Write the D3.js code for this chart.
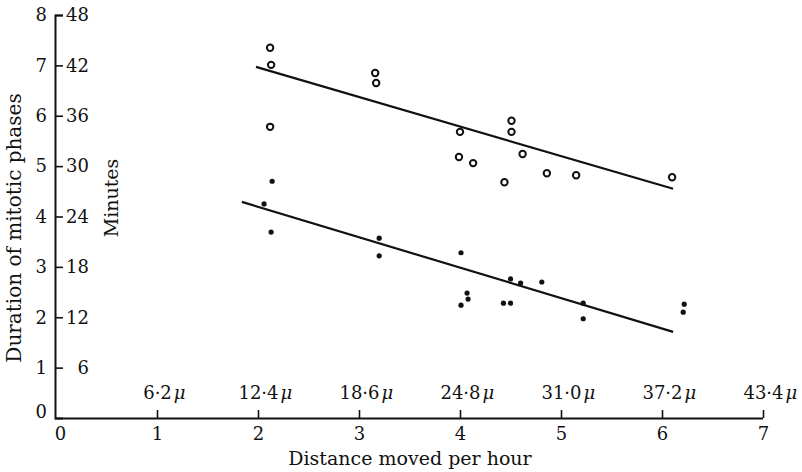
<!DOCTYPE html>
<html>
<head>
<meta charset="utf-8">
<script src="https://cdn.jsdelivr.net/npm/d3@7"></script>
<style>
  body { margin: 0; background: #fff; }
  svg { display: block; }
  text { font-family: 'DejaVu Serif', 'Liberation Serif', serif; fill: #111; }
</style>
</head>
<body>
<svg id="chart" width="802" height="472"></svg>
<script>
// speed axis (divisions per hour) and the matching distance labels
var speedTicks =    [0, 1, 2, 3, 4, 5, 6, 7]
var distLabels =    ['', '6·2', '12·4', '18·6', '24·8', '31·0', '37·2', '43·4']
// duration axis, in units and in minutes
var unitTicks =     [0, 1, 2, 3, 4, 5, 6, 7, 8]
var minuteLabels =  ['', '6', '12', '18', '24', '30', '36', '42', '48']

// open circles (upper group)
var openPoints = [
    [2.12, 7.35], [2.13, 7.01], [2.12, 5.78],
    [3.16, 6.85], [3.17, 6.65],
    [4.00, 5.68], [3.99, 5.18], [4.13, 5.06],
    [4.51, 5.90], [4.51, 5.68], [4.62, 5.24], [4.44, 4.68],
    [4.86, 4.86], [5.15, 4.82], [6.10, 4.78]
]
// filled dots (lower group)
var dotPoints = [
    [2.14, 4.70], [2.06, 4.25], [2.13, 3.69],
    [3.20, 3.57], [3.20, 3.22],
    [4.01, 3.28], [4.07, 2.48], [4.08, 2.36], [4.01, 2.24],
    [4.43, 2.28], [4.50, 2.28], [4.50, 2.76], [4.60, 2.68],
    [4.81, 2.70], [5.22, 2.28], [5.22, 1.97],
    [6.22, 2.26], [6.21, 2.10]
]
// fitted lines, as drawn
var openFit = [[1.98, 6.97], [6.11, 4.55]]
var dotFit =  [[1.84, 4.29], [6.11, 1.71]]

var svg =   d3.select('#chart')
var x =     d3.scaleLinear().domain([0, 7]).range([56, 763])
var y =     d3.scaleLinear().domain([0, 8]).range([418, 15])
var axisX = 55
var fontSize = 18

function styleAxis(g) {
    g.attr('font-family', null).attr('font-size', fontSize)
    g.select('.domain').attr('stroke', '#111').attr('stroke-width', 2)
    g.selectAll('.tick line').attr('stroke', '#111').attr('stroke-width', 1.6)
}

// y axis: minutes on the right of the line
var yRight = svg.append('g')
    .attr('transform', `translate(${axisX},0)`)
    .call(d3.axisRight(y)
        .tickValues(unitTicks.slice(1))
        .tickSize(8).tickSizeOuter(8)
        .tickFormat(d => minuteLabels[d]))
    .call(styleAxis)
yRight.selectAll('.tick text').attr('x', 34).attr('text-anchor', 'end')

// y axis: units on the left
var yLeft = svg.append('g')
    .attr('transform', `translate(${axisX},0)`)
    .call(d3.axisLeft(y).tickValues(unitTicks).tickFormat(d3.format('d')).tickSize(0).tickPadding(8))
    .call(styleAxis)
    .call(g => g.select('.domain').remove())
yLeft.selectAll('.tick text').filter(d => d === 0).attr('dy', '-0.05em')

// x axis: distance labels above the line
var xTop = svg.append('g')
    .attr('transform', `translate(0,${y(0)})`)
    .call(d3.axisTop(x)
        .tickValues(speedTicks.slice(1))
        .tickSize(8).tickSizeOuter(0)
        .tickFormat(d => distLabels[d])
        .tickPadding(11))
    .call(styleAxis)
xTop.select('.domain').attr('d', `M${axisX},0.5H${x(7)}`)
xTop.selectAll('.tick text').each(function() {
    var t = d3.select(this)
    var w = this.getComputedTextLength()
    t.attr('text-anchor', 'start').attr('x', -w / 2)
    t.append('tspan').attr('dx', 2).attr('font-style', 'italic').text('μ')
})

// x axis: speed numbers below the line
var xBottom = svg.append('g')
    .attr('transform', `translate(0,${y(0)})`)
    .call(d3.axisBottom(x).tickValues(speedTicks).tickFormat(d3.format('d')).tickSize(0).tickPadding(9))
    .call(styleAxis)
    .call(g => g.select('.domain').remove())
xBottom.selectAll('.tick text').filter(d => d === 0).attr('x', 4)

// titles
svg.append('text')
    .attr('x', 410).attr('y', 465)
    .attr('text-anchor', 'middle')
    .attr('font-size', 19)
    .text('Distance moved per hour')

svg.append('text')
    .attr('transform', 'translate(21,228) rotate(-90)')
    .attr('text-anchor', 'middle')
    .attr('font-size', 20)
    .text('Duration of mitotic phases')

svg.append('text')
    .attr('transform', 'translate(118,198) rotate(-90)')
    .attr('text-anchor', 'middle')
    .attr('font-size', 19)
    .text('Minutes')

// fitted lines
var line = d3.line().x(d => x(d[0])).y(d => y(d[1]))
svg.selectAll('path.fit')
    .data([openFit, dotFit])
    .join('path')
    .attr('class', 'fit')
    .attr('d', line)
    .attr('fill', 'none')
    .attr('stroke', '#111')
    .attr('stroke-width', 2.2)

// points
svg.selectAll('circle.open')
    .data(openPoints)
    .join('circle')
    .attr('class', 'open')
    .attr('cx', d => x(d[0]))
    .attr('cy', d => y(d[1]))
    .attr('r', 3.2)
    .attr('fill', '#fff')
    .attr('stroke', '#111')
    .attr('stroke-width', 2)

svg.selectAll('circle.dot')
    .data(dotPoints)
    .join('circle')
    .attr('class', 'dot')
    .attr('cx', d => x(d[0]))
    .attr('cy', d => y(d[1]))
    .attr('r', 2.6)
    .attr('fill', '#111')
</script>
</body>
</html>
